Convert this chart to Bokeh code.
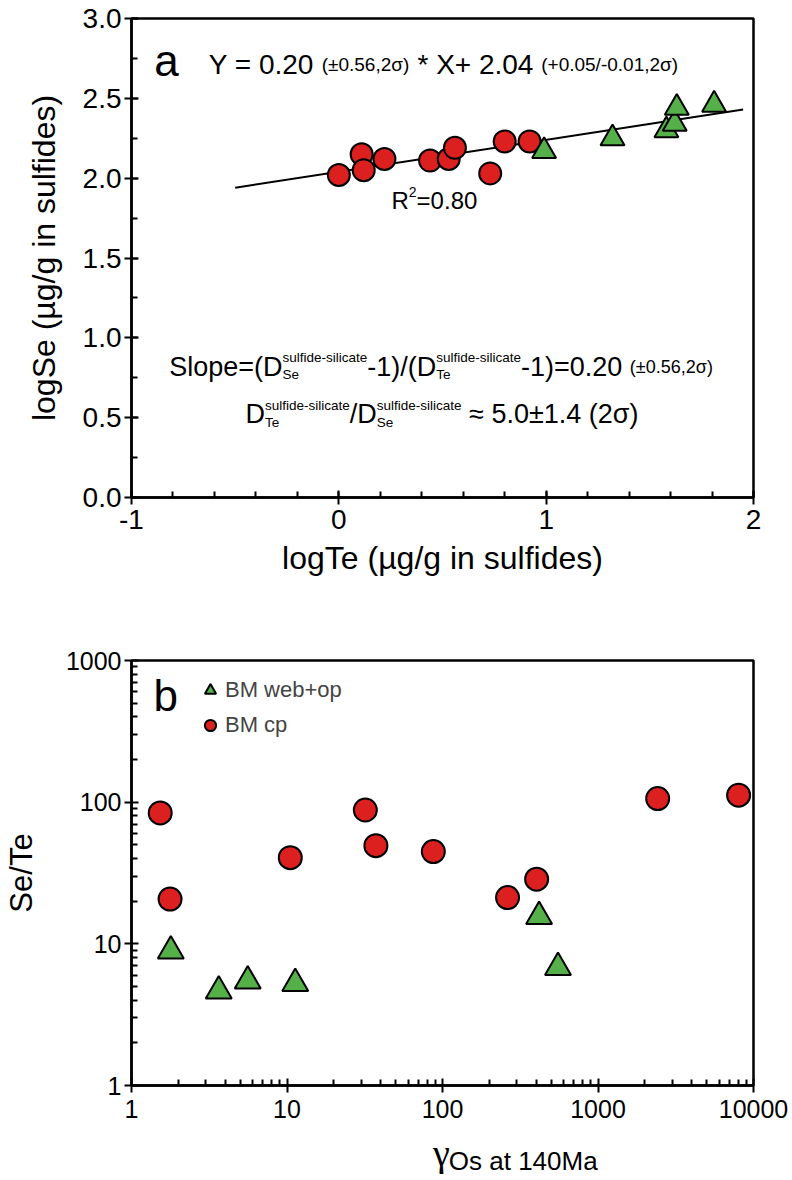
from bokeh.plotting import figure
from bokeh.layouts import column
from bokeh.models import FixedTicker, Label, Legend, LegendItem, PrintfTickFormatter, Range1d
from bokeh.embed import file_html
from bokeh.resources import INLINE

# ---------------- panel a data ----------------
cp_logTe = [0.00, 0.11, 0.12, 0.22, 0.44, 0.53, 0.56, 0.73, 0.80, 0.92]
cp_logSe = [2.02, 2.15, 2.05, 2.12, 2.11, 2.12, 2.19, 2.03, 2.23, 2.23]
web_logTe = [0.99, 1.32, 1.58, 1.62, 1.63, 1.81]
web_logSe = [2.17, 2.25, 2.30, 2.34, 2.44, 2.46]
fit_slope = 0.20
fit_intercept = 2.04
fit_x = [-0.5, 1.95]
a_xticks = [-1, 0, 1, 2]
a_yticks = [0.0, 0.5, 1.0, 1.5, 2.0, 2.5, 3.0]

# ---------------- panel b data ----------------
cp_gamma = [1.53, 1.77, 10.5, 31.9, 37.3, 87.3, 262, 403, 2420, 8020]
cp_sete = [84, 20.7, 40.6, 88, 49.3, 44.8, 21.2, 28.6, 106, 112]
web_gamma = [1.79, 3.64, 5.59, 11.3, 418, 553]
web_sete = [8.9, 4.65, 5.47, 5.24, 15.6, 6.8]
b_xticks = [1, 10, 100, 1000, 10000]
b_yticks = [1, 10, 100, 1000]

SANS = "Liberation Sans"
SERIF = "Liberation Serif"
RED = "#dc2020"
GREEN = "#55b04a"

# Arial / Liberation Sans advance widths (per 1000 em)
W = {' ': 278, '(': 333, ')': 333, '*': 389, '+': 584, ',': 278, '-': 333, '.': 278,
     '/': 278, '=': 584, '±': 584, '≈': 584, 'σ': 600, 'A': 667, 'D': 722, 'R': 722,
     'S': 667, 'T': 611, 'X': 667, 'Y': 667, 'a': 556, 'c': 500, 'd': 556, 'e': 556,
     'f': 278, 'i': 222, 'l': 222, 'o': 556, 'p': 556, 's': 500, 't': 278, 'u': 556}


def tw(s, size):
    return sum(W.get(ch, 556) for ch in s) * size / 1000.0


def rich(p, x, y, parts, font=SANS):
    off = 0.0
    for text, size, dy, adv in parts:
        lead = len(text) - len(text.lstrip(" "))
        shown = text.strip(" ")
        p.add_layout(Label(x=x, y=y, x_offset=off + tw(" " * lead, size), y_offset=dy,
                           text=shown, text_font=font, text_font_size=f"{size}px",
                           text_baseline="alphabetic", text_align="left",
                           text_color="black"))
        if adv:
            off += tw(text, size)


def style_axis(ax, font, size):
    ax.axis_line_width = 2.5
    ax.axis_line_color = "black"
    ax.major_tick_line_width = 2
    ax.minor_tick_line_width = 2
    ax.major_tick_line_color = "black"
    ax.minor_tick_line_color = "black"
    ax.major_tick_in = 7
    ax.major_tick_out = 7
    ax.minor_tick_in = 6
    ax.minor_tick_out = 0
    ax.major_label_text_font = font
    ax.major_label_text_font_size = size
    ax.major_label_text_color = "black"
    ax.axis_label_text_font_style = "normal"
    ax.axis_label_text_color = "black"


# ================= panel a =================
p1 = figure(width=792, height=600, x_range=Range1d(-1, 2), y_range=Range1d(0, 3),
            output_backend="svg", toolbar_location=None,
            min_border_left=126, min_border_right=39, min_border_top=18, min_border_bottom=103)
p1.xgrid.visible = False
p1.ygrid.visible = False
p1.outline_line_color = "black"
p1.outline_line_width = 2.5
p1.outline_line_alpha = 1.0

xa = p1.xaxis[0]
ya = p1.yaxis[0]
xa.ticker = FixedTicker(ticks=a_xticks, minor_ticks=[-1 + 0.2 * i for i in range(16)])
ya.ticker = FixedTicker(ticks=a_yticks, minor_ticks=[0.25 * i for i in range(13)])
xa.formatter = PrintfTickFormatter(format="%d")
ya.formatter = PrintfTickFormatter(format="%.1f")
for ax in (xa, ya):
    style_axis(ax, SANS, "28px")
    ax.axis_label_text_font = SANS
    ax.axis_label_text_font_size = "32px"
xa.axis_label = "logTe (µg/g in sulfides)"
ya.axis_label = "logSe (µg/g in sulfides)"
xa.major_label_standoff = 5
xa.axis_label_standoff = 8
ya.major_label_standoff = 3
ya.axis_label_standoff = 18

fit_y = [fit_slope * v + fit_intercept for v in fit_x]
p1.line(fit_x, fit_y, line_color="black", line_width=2)
p1.scatter(cp_logTe, cp_logSe, marker="circle", size=22, fill_color=RED,
           line_color="black", line_width=2)
p1.scatter(web_logTe, web_logSe, marker="triangle", size=24, fill_color=GREEN,
           line_color="black", line_width=2)

p1.add_layout(Label(x=-0.89, y=2.74, text="a", text_font=SANS, text_font_size="44px",
                    text_baseline="alphabetic", text_color="black"))
rich(p1, -0.627, 2.71, [("Y = 0.20 ", 28, 0, True), ("(±0.56,2σ)", 19, 0, True),
                        (" * X+ 2.04 ", 28, 0, True), ("(+0.05/-0.01,2σ)", 19, 0, True)])
rich(p1, 0.254, 1.86, [("R", 24, 0, True), ("2", 14, 9, True), ("=0.80", 24, 0, True)])
rich(p1, -0.818, 0.82, [("Slope=(D", 27, 0, True), ("Se", 13.5, -8, False),
                        ("sulfide-silicate", 13.5, 9, True), ("-1)/(D", 27, 0, True),
                        ("Te", 13.5, -8, False), ("sulfide-silicate", 13.5, 9, True),
                        ("-1)=0.20 ", 27, 0, True), ("(±0.56,2σ)", 18, 0, True)])
rich(p1, -0.450, 0.52, [("D", 27, 0, True), ("Te", 13.5, -8, False),
                        ("sulfide-silicate", 13.5, 9, True), ("/D", 27, 0, True),
                        ("Se", 13.5, -8, False), ("sulfide-silicate", 13.5, 9, True),
                        (" ≈ 5.0±1.4 (2σ)", 27, 0, True)])

# ================= panel b =================
p2 = figure(width=792, height=530, x_axis_type="log", y_axis_type="log",
            x_range=Range1d(1, 10000), y_range=Range1d(1, 1000),
            output_backend="svg", toolbar_location=None,
            min_border_left=126, min_border_right=39, min_border_top=60, min_border_bottom=45)
p2.xgrid.visible = False
p2.ygrid.visible = False
p2.outline_line_color = "black"
p2.outline_line_width = 2.5
p2.outline_line_alpha = 1.0

xb = p2.xaxis[0]
yb = p2.yaxis[0]
xb.ticker = FixedTicker(ticks=b_xticks,
                        minor_ticks=[m * 10 ** e for e in range(0, 4) for m in range(2, 10)])
yb.ticker = FixedTicker(ticks=b_yticks,
                        minor_ticks=[m * 10 ** e for e in range(0, 3) for m in range(2, 10)])
xb.formatter = PrintfTickFormatter(format="%d")
yb.formatter = PrintfTickFormatter(format="%d")
for ax in (xb, yb):
    style_axis(ax, SANS, "25px")
xb.major_label_standoff = 7
yb.major_label_standoff = 3
yb.axis_label = "Se/Te"
yb.axis_label_text_font = SANS
yb.axis_label_text_font_size = "31px"
yb.axis_label_standoff = 24

r_cp = p2.scatter(cp_gamma, cp_sete, marker="circle", size=23, fill_color=RED,
                  line_color="black", line_width=2)
r_web = p2.scatter(web_gamma, web_sete, marker="triangle", size=26, fill_color=GREEN,
                   line_color="black", line_width=2)

legend = Legend(items=[LegendItem(label="BM web+op", renderers=[r_web]),
                       LegendItem(label="BM cp", renderers=[r_cp])],
                location=(65, 346), glyph_width=28, glyph_height=28, label_height=28,
                spacing=7, padding=0, margin=0, label_standoff=1,
                border_line_alpha=0, background_fill_alpha=0,
                label_text_font=SANS, label_text_font_size="22px")
p2.add_layout(legend)

p2.add_layout(Label(x=22, y=390, x_units="screen", y_units="screen", text="b",
                    text_font=SANS, text_font_size="44px", text_baseline="middle",
                    text_color="black"))

# ---- x-axis title of panel b (γOs at 140Ma) in a strip below ----
p3 = figure(width=792, height=50, x_range=Range1d(0, 792), y_range=Range1d(0, 50),
            output_backend="svg", toolbar_location=None, min_border=0)
p3.xaxis.visible = False
p3.yaxis.visible = False
p3.xgrid.visible = False
p3.ygrid.visible = False
p3.outline_line_color = None
p3.add_layout(Label(x=384, y=28, text="γ", text_font=SERIF, text_font_size="38px",
                    text_baseline="alphabetic", text_color="black"))
p3.add_layout(Label(x=404, y=20, text="Os at 140Ma", text_font=SANS,
                    text_font_size="26px", text_baseline="alphabetic", text_color="black"))

layout = column(p1, p2, p3, spacing=0)
open("out.html", "w").write(file_html(layout, INLINE))
